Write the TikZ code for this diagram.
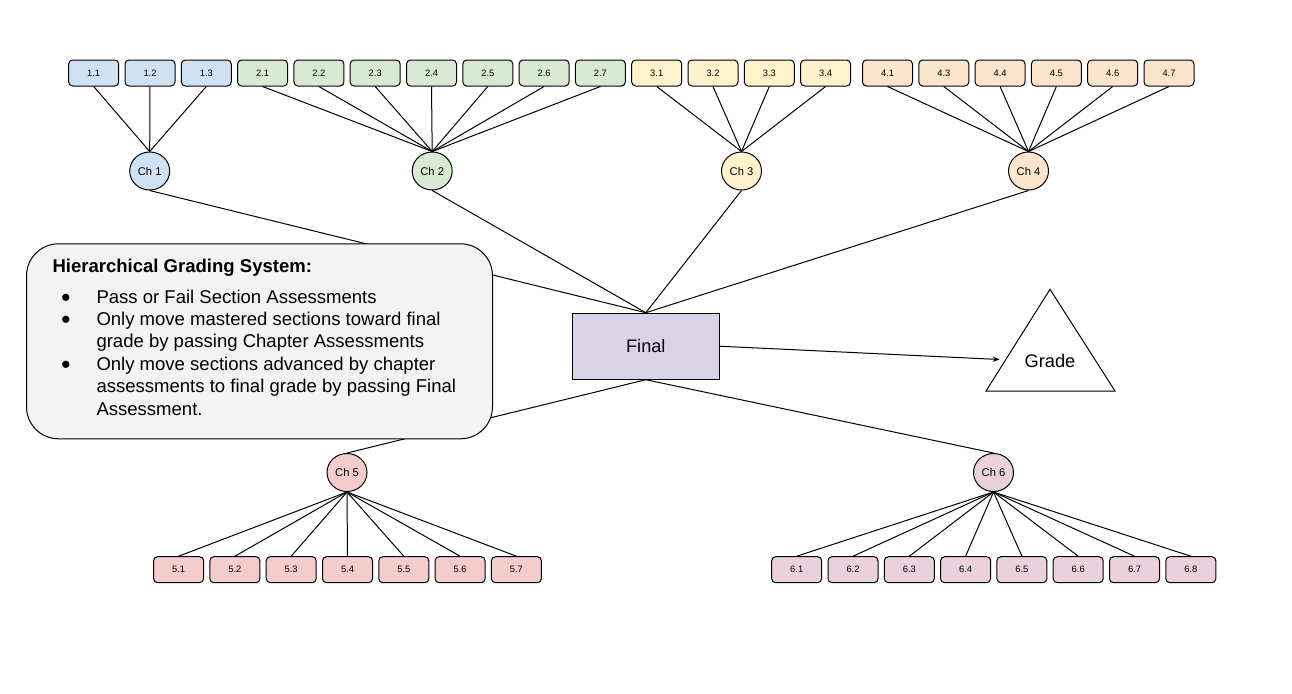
\documentclass[tikz,border=0pt]{standalone}
\usepackage{fontspec}
\setmainfont{Liberation Sans}
\usetikzlibrary{arrows.meta,shapes.geometric}
\definecolor{c1}{HTML}{CFE2F3}
\definecolor{c2}{HTML}{D9EAD3}
\definecolor{c3}{HTML}{FFF2CC}
\definecolor{c4}{HTML}{FCE5CD}
\definecolor{c5}{HTML}{F4CCCC}
\definecolor{c6}{HTML}{EAD1DC}
\definecolor{cfinal}{HTML}{D9D2E9}
\definecolor{cinfo}{HTML}{F3F3F3}
\begin{document}
\begin{tikzpicture}[x=0.75pt,y=-0.75pt,
  every path/.style={line width=0.75pt},
  sbox/.style={draw, rounded corners=3pt, minimum width=37.5pt, minimum height=19.5pt, inner sep=0pt, font=\fontsize{7pt}{8pt}\selectfont},
  chnode/.style={draw, ellipse, minimum width=30pt, minimum height=28.5pt, inner sep=0pt, font=\fontsize{8.4pt}{10pt}\selectfont},
  link/.style={draw, line width=0.75pt},
  infotext/.style={anchor=base west, inner sep=0pt, font=\fontsize{13.9pt}{16.7pt}\selectfont},
  bullet/.style={anchor=center, inner sep=0pt, font=\fontsize{12.5pt}{14pt}\selectfont}
]
\useasboundingbox (0,0) rectangle (1292,693);

% chapter nodes
\node[chnode, fill=c1] (ch1) at (149.7,171) {Ch 1};
\node[chnode, fill=c2] (ch2) at (432.2,171) {Ch 2};
\node[chnode, fill=c3] (ch3) at (741.5,171) {Ch 3};
\node[chnode, fill=c4] (ch4) at (1028.5,171) {Ch 4};
\node[chnode, fill=c5] (ch5) at (347,472.5) {Ch 5};
\node[chnode, fill=c6] (ch6) at (993.5,472.5) {Ch 6};

% final
\node[draw, fill=cfinal, minimum width=110.25pt, minimum height=49.5pt, inner sep=0pt, font=\fontsize{13.6pt}{16pt}\selectfont] (final) at (645.8,346.2) {Final};

% top section boxes
\foreach \c/\s/\x in {1/1/93.7,1/2/150.0,1/3/206.3,
  2/1/262.6,2/2/318.9,2/3/375.2,2/4/431.5,2/5/487.8,2/6/544.1,2/7/600.4,
  3/1/656.7,3/2/713.0,3/3/769.3,3/4/825.6,
  4/1/887.5,4/3/943.8,4/4/1000.1,4/5/1056.4,4/6/1112.7,4/7/1169.0}{
  \node[sbox, fill=c\c] (b\c-\s) at (\x,73) {\c.\s};
  \draw[link] (b\c-\s.south) -- (ch\c.north);
}
% bottom section boxes
\foreach \c/\s/\x in {5/1/178.6,5/2/234.9,5/3/291.2,5/4/347.5,5/5/403.8,5/6/460.1,5/7/516.4,
  6/1/796.7,6/2/853.0,6/3/909.3,6/4/965.6,6/5/1021.9,6/6/1078.2,6/7/1134.5,6/8/1190.8}{
  \node[sbox, fill=c\c] (b\c-\s) at (\x,569.7) {\c.\s};
  \draw[link] (ch\c.south) -- (b\c-\s.north);
}

% chapter to final
\draw[link] (ch1.south) -- (final.north);
\draw[link] (ch2.south) -- (final.north);
\draw[link] (ch3.south) -- (final.north);
\draw[link] (ch4.south) -- (final.north);
\draw[link] (final.south) -- (ch5.north);
\draw[link] (final.south) -- (ch6.north);

% grade triangle
\draw (1050,289.3) -- (1115,391) -- (986,391) -- cycle;
\node[inner sep=0pt, anchor=base, font=\fontsize{13.7pt}{16pt}\selectfont] (grade) at (1050,367.3) {Grade};
\coordinate (gradeL) at (999.5,359.5);
\draw[link, -{Stealth[length=5pt,width=4pt]}] (final.east) -- (gradeL);

% info box
\node[draw, fill=cinfo, rounded corners=24pt, minimum width=349.5pt, minimum height=146.25pt, inner sep=0pt] (info) at (259.5,341.3) {};
\node[infotext, font=\fontsize{13.9pt}{16.7pt}\selectfont\bfseries] (t0) at (52,272) {Hierarchical Grading System:};
\node[bullet] (d1) at (66,298.3) {●};
\node[infotext] (t1) at (96,303) {Pass or Fail Section Assessments};
\node[bullet] (d2) at (66,320.7) {●};
\node[infotext] (t2) at (96,325.4) {Only move mastered sections toward final};
\node[infotext] (t3) at (96,347.8) {grade by passing Chapter Assessments};
\node[bullet] (d3) at (66,365.5) {●};
\node[infotext] (t4) at (96,370.2) {Only move sections advanced by chapter};
\node[infotext] (t5) at (96,392.6) {assessments to final grade by passing Final};
\node[infotext] (t6) at (96,415) {Assessment.};
\end{tikzpicture}
\end{document}
